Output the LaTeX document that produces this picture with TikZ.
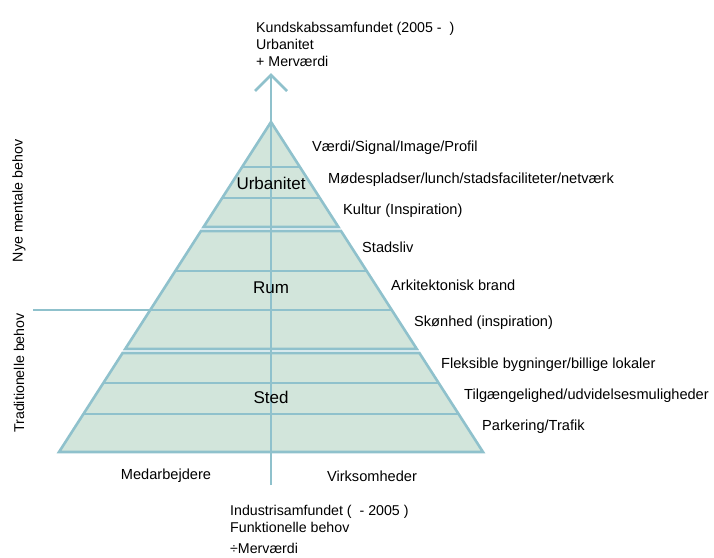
\documentclass[tikz,border=0pt]{standalone}
\usepackage{fontspec}
\setmainfont{Liberation Sans}
\definecolor{pfill}{RGB}{210,229,219}
\definecolor{pline}{RGB}{143,193,204}
\begin{document}
\begin{tikzpicture}[x=1pt,y=-1pt,
  declare function={hw(\t)=0.6424*(\t-122);},
  band/.style={fill=pfill,draw=pline,line width=2.6pt,line join=miter},
  rung/.style={draw=pline,line width=2.6pt},
  axisline/.style={draw=pline,line width=2.8pt},
  side/.style={anchor=west,inner sep=0pt,font=\fontsize{14.6}{16}\selectfont},
  inner/.style={inner sep=0pt,font=\fontsize{17}{19}\selectfont},
  note/.style={anchor=north west,inner sep=0pt,align=left,font=\fontsize{14.2}{17}\selectfont},
  vlab/.style={rotate=90,inner sep=0pt,font=\fontsize{14.2}{16}\selectfont}]
\useasboundingbox (0,0) rectangle (714,557);
\fill[white] (0,0) rectangle (714,557);
% sections
\path[band] (271,122) -- ({271+hw(227)},227) -- ({271-hw(227)},227) -- cycle;
\path[band] ({271-hw(231)},231) -- ({271+hw(231)},231) -- ({271+hw(349)},349) -- ({271-hw(349)},349) -- cycle;
\path[band] ({271-hw(353)},353) -- ({271+hw(353)},353) -- ({271+hw(452)},452) -- ({271-hw(452)},452) -- cycle;
% rungs
\foreach \r in {167,198,271,383,414}
  \draw[rung] ({271-hw(\r)},\r) -- ({271+hw(\r)},\r);
\coordinate (hl) at (33,310);
\coordinate (hr) at ({271+hw(310)},310);
\draw[rung] (hl) -- (hr);
% axis
\coordinate (tip) at (271,75);
\coordinate (foot) at (271,485);
\draw[axisline] (foot) -- (tip);
\draw[axisline,line join=miter] (255,91) -- (tip) -- (287,91);
% inner labels
\node[inner] (urb) at (271,183) {Urbanitet};
\node[inner] (rum) at (271,288) {Rum};
\node[inner] (sted) at (271,397) {Sted};
% side labels
\node[side] (l1) at (312,148) {Værdi/Signal/Image/Profil};
\node[side] (l2) at (328,180) {Mødespladser/lunch/stadsfaciliteter/netværk};
\node[side] (l3) at (343,211) {Kultur (Inspiration)};
\node[side] (l4) at (362,247) {Stadsliv};
\node[side] (l5) at (391,285) {Arkitektonisk brand};
\node[side] (l6) at (414,323) {Skønhed (inspiration)};
\node[side] (l7) at (441,365) {Fleksible bygninger/billige lokaler};
\node[side] (l8) at (464,396) {Tilgængelighed/udvidelsesmuligheder};
\node[side] (l9) at (482,427) {Parkering/Trafik};
% bottom labels
\node[inner sep=0pt,font=\fontsize{14.6}{16}\selectfont] (med) at (166,476) {Medarbejdere};
\node[inner sep=0pt,font=\fontsize{14.6}{16}\selectfont] (vir) at (372,476) {Virksomheder};
% top and bottom notes
\node[note] (top) at (256,22) {Kundskabssamfundet (2005 -\ \ )\\Urbanitet\\+ Merværdi};
\node[note] (bot) at (230,505) {Industrisamfundet (\ \ - 2005 )\\Funktionelle behov\\[4pt]÷Merværdi};
% vertical labels
\node[vlab] (nye) at (19,201) {Nye mentale behov};
\node[vlab] (trad) at (19,373) {Traditionelle behov};
\end{tikzpicture}
\end{document}
